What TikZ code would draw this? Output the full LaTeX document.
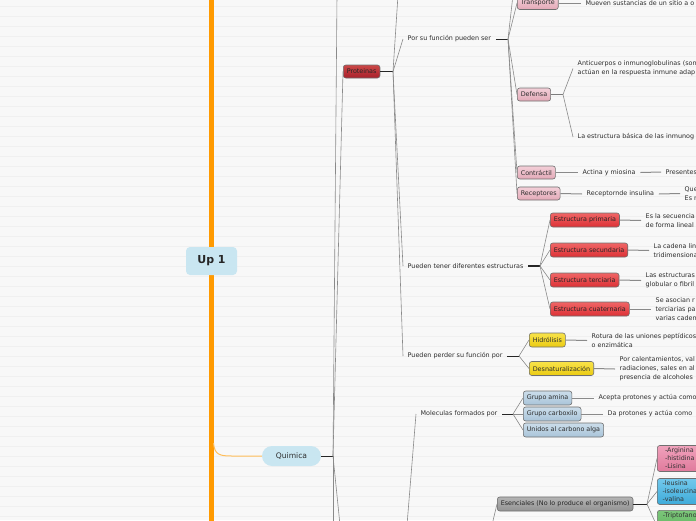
\documentclass[tikz,border=0pt]{standalone}
\usepackage{fontspec}
\setmainfont{DejaVu Sans}
\definecolor{bgc}{HTML}{F8F8F8}
\definecolor{bgl}{HTML}{F0F0F0}
\definecolor{txtc}{HTML}{2E2E2E}
\definecolor{bordc}{HTML}{707070}
\definecolor{edgec}{HTML}{8A8A8A}
\definecolor{orng}{HTML}{FF9A00}
\definecolor{orngl}{HTML}{FFBE5A}
\definecolor{rootc}{HTML}{C9E6F1}
\definecolor{protT}{HTML}{CC4848}\definecolor{protB}{HTML}{A8202A}
\definecolor{pinkT}{HTML}{F3CFD8}\definecolor{pinkB}{HTML}{E3A9B7}
\definecolor{redT}{HTML}{F06666}\definecolor{redB}{HTML}{DC3035}
\definecolor{yelT}{HTML}{F8E34A}\definecolor{yelB}{HTML}{EBCB12}
\definecolor{bluT}{HTML}{CBDDEA}\definecolor{bluB}{HTML}{A9C4D9}
\definecolor{gryT}{HTML}{B4B4B4}\definecolor{gryB}{HTML}{939393}
\definecolor{gpinkT}{HTML}{F0A2BC}\definecolor{gpinkB}{HTML}{E07A9C}
\definecolor{gbluT}{HTML}{72C8EC}\definecolor{gbluB}{HTML}{3EABD9}
\definecolor{ggrnT}{HTML}{7CC77A}\definecolor{ggrnB}{HTML}{52A850}
\begin{document}
\begin{tikzpicture}[x=1pt,y=-1pt,
  txt/.style={anchor=west, inner xsep=4.5pt, inner ysep=0pt, align=left,
    font=\fontsize{6.4}{9}\selectfont, text=txtc},
  bx/.style={anchor=west, draw=bordc, line width=0.6pt, rounded corners=2.5pt,
    inner xsep=3.5pt, inner ysep=0pt, minimum height=13pt,
    font=\fontsize{6.4}{9}\selectfont, text=txtc},
  protbox/.style={bx, top color=protT, bottom color=protB, text=black!85},
  pinkbox/.style={bx, top color=pinkT, bottom color=pinkB},
  redbox/.style={bx, top color=redT, bottom color=redB, text=black!85, minimum height=14pt},
  yelbox/.style={bx, top color=yelT, bottom color=yelB, minimum height=14pt},
  blubox/.style={bx, top color=bluT, bottom color=bluB, minimum height=14pt},
  grybox/.style={bx, top color=gryT, bottom color=gryB, minimum height=14pt, text=black!85},
  grpbox/.style={bx, align=left, font=\fontsize{6.4}{7.9}\selectfont, inner ysep=2.6pt,
    minimum width=45pt, text=black!80},
  br/.style={draw=edgec, line width=0.6pt},
  stub/.style={draw=black!85, line width=0.9pt},
  gstub/.style={draw=edgec!90!black, line width=1.8pt},
  lnk/.style={draw=edgec, line width=1pt},
  bgline/.style={draw=bgl, line width=0.6pt}
]
\useasboundingbox (0,0) rectangle (696,520);
\clip (0,0) rectangle (696,520);
\fill[bgc] (0,0) rectangle (696,520);
\foreach \yy in {6,16,...,516} \draw[bgline] (0,\yy) -- (696,\yy);

% orange trunk
\draw[orng, line width=5pt] (211,-2) -- (211,522);
\node[fill=rootc, rounded corners=4pt, minimum width=51pt, minimum height=28pt,
  inner sep=0pt, text=black!85, font=\fontsize{11}{12}\bfseries] (up) at (211.5,261) {Up 1};
\node[fill=rootc, rounded corners=10pt, minimum width=59pt, minimum height=20pt,
  inner sep=0pt, text=txtc, font=\fontsize{7.6}{9}\selectfont] (quim) at (291.5,456) {Quimica};
\coordinate (oc) at (213.5,443);
\draw[orngl, line width=1pt] (oc) .. controls (214.5,455) and (220,456) .. (232,456) -- (quim.west);

% junctions and off-picture ends
\coordinate (J0) at (333,456);
\coordinate (up0) at (337,-5);
\coordinate (dn0a) at (333,525);
\coordinate (dn0b) at (340,525);
\coordinate (up1) at (398,-5);
\coordinate (up2) at (513,-5);
\coordinate (dnM) at (407,525);
\coordinate (dnE) at (492,525);

\draw[stub] (quim.east) -- (J0);
\draw[br] (J0) -- (up0);
\draw[br] (J0) -- (dn0a);
\draw[br] (J0) -- (dn0b);

% Proteinas
\node[protbox] (prot) at (343,71.5) {Proteinas};
\draw[br] (J0) -- (prot.west);
\coordinate (J1) at (393,71.5);
\draw[stub, line width=1.6pt] (prot.east) -- (J1);
\draw[br] (J1) -- (up1);

\node[txt] (func) at (403,39) {Por su función pueden ser};
\node[txt] (estr) at (403,266) {Pueden tener diferentes estructuras};
\node[txt] (perd) at (403,356) {Pueden perder su función por};
\draw[br] (J1) -- (func.west);
\draw[br] (J1) -- (estr.west);
\draw[br] (J1) -- (perd.west);

% Por su funcion
\coordinate (J2) at (508,39);
\draw[stub] (func.east) -- (J2);
\node[pinkbox] (trans) at (517,3) {Transporte};
\node[pinkbox] (def) at (517,94.5) {Defensa};
\node[pinkbox] (contr) at (517,172.5) {Contráctil};
\node[pinkbox] (rec) at (517,193.5) {Receptores};
\draw[br] (J2) -- (up2);
\draw[br] (J2) -- (trans.west);
\draw[br] (J2) -- (def.west);
\draw[br] (J2) -- (contr.west);
\draw[br] (J2) -- (rec.west);

\node[txt] (muev) at (581,3) {Mueven sustancias de un sitio a o};
\draw[lnk] (trans.east) -- (muev.west);

\coordinate (J3) at (563,94.5);
\draw[gstub] (def.east) -- (J3);
\node[txt] (anti) at (573,68.5) {Anticuerpos o inmunoglobulinas (son\\actúan en la respuesta inmune adap};
\node[txt] (ebas) at (573,137) {La estructura básica de las inmunog};
\draw[br] (J3) -- (anti.west);
\draw[br] (J3) -- (ebas.west);

\node[txt] (acti) at (578,172.5) {Actina y miosina};
\node[txt] (pres) at (661,172) {Presentes};
\draw[lnk] (contr.east) -- (acti.west);
\draw[lnk] (acti.east) -- (pres.west);

\node[txt] (reci) at (582,194) {Receptornde insulina};
\node[txt] (que) at (680,193.5) {Que\\Es r};
\draw[lnk] (rec.east) -- (reci.west);
\draw[lnk] (reci.east) -- (que.west);

% Estructuras
\coordinate (J4) at (540,266);
\draw[stub, line width=1.6pt] (estr.east) -- (J4);
\node[redbox] (e1) at (550,220) {Estructura primaria};
\node[redbox] (e2) at (550,250) {Estructura secundaria};
\node[redbox] (e3) at (550,280) {Estructura terciaria};
\node[redbox] (e4) at (550,309) {Estructura cuaternaria};
\foreach \n in {e1,e2,e3,e4} \draw[br] (J4) -- (\n.west);
\node[txt] (t1) at (641,220.5) {Es la secuencia\\de forma lineal};
\node[txt] (t2) at (649,250.5) {La cadena lin\\tridimensiona};
\node[txt] (t3) at (641,280.5) {Las estructuras\\globular o fibril};
\node[txt] (t4) at (651,309) {Se asocian r\\terciarias pa\\varias caden};
\draw[lnk] (e1.east) -- (t1.west);
\draw[lnk] (e2.east) -- (t2.west);
\draw[lnk] (e3.east) -- (t3.west);
\draw[lnk] (e4.east) -- (t4.west);

% Perder funcion
\coordinate (J5) at (519,356);
\draw[stub] (perd.east) -- (J5);
\node[yelbox] (hid) at (529,340) {Hidrólisis};
\node[yelbox] (des) at (529,368.5) {Desnaturalización};
\draw[br] (J5) -- (hid.west);
\draw[br] (J5) -- (des.west);
\node[txt] (rot) at (587,340.5) {Rotura de las uniones peptídicos\\o enzimática};
\node[txt] (cal) at (615,369) {Por calentamientos, val\\radiaciones, sales en al\\presencia de alcoholes};
\draw[lnk] (hid.east) -- (rot.west);
\draw[lnk] (des.east) -- (cal.west);

% Moleculas
\node[txt] (mol) at (416,414) {Moleculas formados por};
\draw[br] (dnM) -- (mol.west);
\coordinate (J6) at (513,414);
\draw[stub] (mol.east) -- (J6);
\node[blubox] (ga) at (523,398) {Grupo amina};
\node[blubox] (gc) at (523,414) {Grupo carboxilo};
\node[blubox] (ua) at (523,430) {Unidos al carbono alga};
\draw[br] (J6) -- (ga.west);
\draw[br] (J6) -- (gc.west);
\draw[br] (J6) -- (ua.west);
\node[txt] (acep) at (594,398) {Acepta protones y actúa como};
\node[txt] (dapr) at (603,414) {Da protones y actúa como};
\draw[lnk] (ga.east) -- (acep.west);
\draw[lnk] (gc.east) -- (dapr.west);

% Esenciales
\node[grybox] (esen) at (497,504) {Esenciales (No lo produce el organismo)};
\draw[br] (dnE) -- (esen.west);
\coordinate (J7) at (647,504);
\draw[stub] (esen.east) -- (J7);
\node[grpbox, top color=gpinkT, bottom color=gpinkB] (gp) at (657,458.5) {-Arginina\\-histidina\\-Lisina};
\node[grpbox, top color=gbluT, bottom color=gbluB] (gb) at (657,491.5) {-leusina\\-isoleucina\\-valina};
\node[grpbox, top color=ggrnT, bottom color=ggrnB, anchor=north west, text depth=22pt] (gg) at (657,510) {-Triptofano};
\draw[br] (J7) -- (gp.west);
\draw[br] (J7) -- (gb.west);
\draw[br] (J7) -- (gg.west);
\end{tikzpicture}
\end{document}
